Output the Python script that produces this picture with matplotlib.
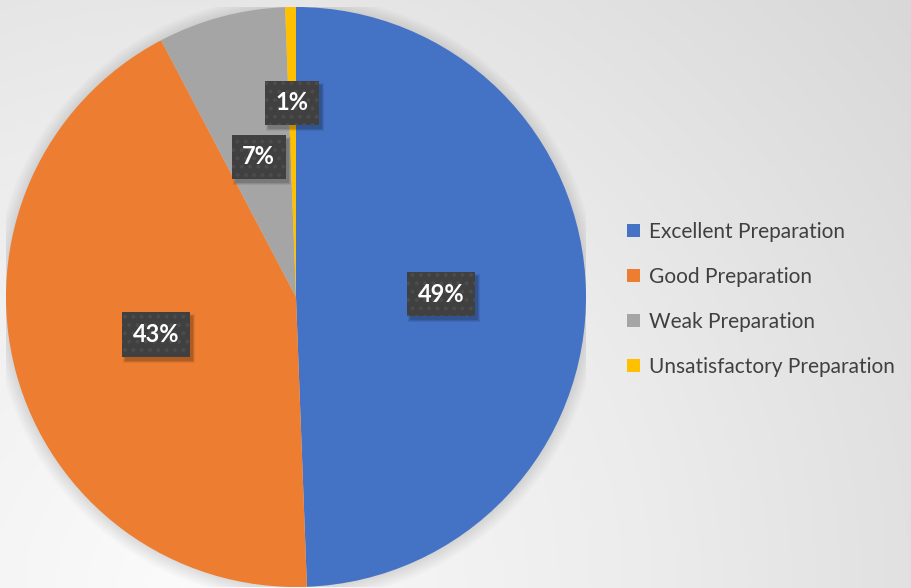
import numpy as np
import matplotlib as mpl
mpl.use('Agg')
import matplotlib.pyplot as plt
import matplotlib.transforms as mtransforms
from matplotlib.patches import Rectangle
from matplotlib.colors import LinearSegmentedColormap

# data
labels = ['Excellent Preparation', 'Good Preparation', 'Weak Preparation',
          'Unsatisfactory Preparation']
values = [49.4, 42.9, 7.1, 0.6]
pct_text = ['49%', '43%', '7%', '1%']
label_dist = [0.5, 0.5, 0.5, 0.67]
colors = ['#4472c4', '#ed7d31', '#a5a5a5', '#ffc000']

plt.rcParams['font.family'] = ['Lato', 'DejaVu Sans']
plt.rcParams['hatch.linewidth'] = 1.6

W, H = 912, 588
fig = plt.figure(figsize=(W / 100, H / 100), dpi=100)

# background gradient
bg = fig.add_axes([0, 0, 1, 1])
yy, xx = np.mgrid[0:1:300j, 0:1:460j]
d = np.sqrt((xx - 0.2) ** 2 + ((1 - yy) * 0.65) ** 2)
d = d / d.max()
cmap = LinearSegmentedColormap.from_list('bg', ['#fbfbfb', '#ececec', '#d8d8d8'])
bg.imshow(d, cmap=cmap, extent=[0, 1, 0, 1], aspect='auto', origin='upper')
bg.set_axis_off()

# pie
cx, cy, r = 296, H - 297, 290
ax = fig.add_axes([(cx - r) / W, (cy - r) / H, 2 * r / W, 2 * r / H])

# soft shadow under the pie
for k in range(10):
    ax.add_patch(plt.Circle((0.0, -0.004), 1.0 + 0.005 * k, color='k',
                            alpha=0.012, lw=0, zorder=0))

wedges, _ = ax.pie(values, colors=colors, startangle=90, counterclock=False,
                   radius=1, wedgeprops=dict(linewidth=0))
ax.set_xlim(-1, 1)
ax.set_ylim(-1, 1)
ax.set_axis_off()

# data labels
start = 90.0
total = sum(values)
texts = []
for w, txt, dist in zip(values, pct_text, label_dist):
    ang = np.deg2rad(start - 360 * w / total / 2)
    start -= 360 * w / total
    x, y = dist * np.cos(ang), dist * np.sin(ang)
    t = ax.text(x, y, txt, ha='center', va='center', color='white', fontsize=17,
                fontweight='bold', zorder=5,
                bbox=dict(boxstyle='square,pad=0.45', facecolor='#404040',
                          edgecolor='#4c4c4c', linewidth=0, hatch='..'))
    texts.append(t)

# box shadows (soft, offset down-right)
fig.canvas.draw()
ident = mtransforms.IdentityTransform()
for t in texts:
    bb = t.get_bbox_patch().get_window_extent()
    for k, a in enumerate([0.12, 0.09, 0.07]):
        ax.add_artist(Rectangle((bb.x0 + 3 - k, bb.y0 - 4 - k),
                                bb.width + 2 * k, bb.height + 2 * k,
                                transform=ident, facecolor='k', alpha=a,
                                lw=0, zorder=4))

leg = fig.legend(wedges, labels, loc='upper left',
                 bbox_to_anchor=(627 / W, 1 - 222 / H), frameon=False,
                 fontsize=15, handlelength=0.62, handleheight=0.62,
                 handletextpad=0.45, labelspacing=1.2, borderpad=0,
                 borderaxespad=0)
for tx in leg.get_texts():
    tx.set_color('#404040')

fig.savefig('out.png', dpi=100)
